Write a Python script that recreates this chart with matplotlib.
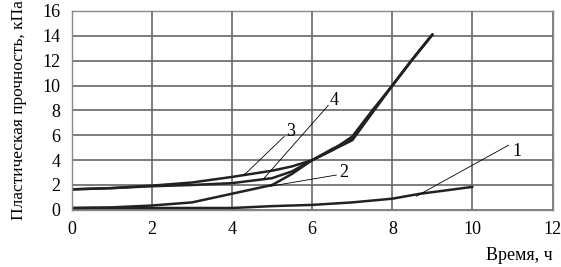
import numpy as np
import matplotlib.pyplot as plt

plt.rcParams['font.family'] = ['Liberation Serif', 'DejaVu Serif']

# curve data (time, h -> plastic strength, kPa)
t1 = [0, 2, 4, 5, 6, 7, 8, 8.7, 9.3, 10]
y1 = [0.15, 0.15, 0.15, 0.3, 0.4, 0.6, 0.9, 1.3, 1.55, 1.85]

t2 = [0, 1, 2, 3, 4, 5, 5.5, 6, 6.5, 7, 7.5, 8, 8.5, 9]
y2 = [0.15, 0.2, 0.35, 0.6, 1.3, 2.0, 2.9, 4.0, 4.8, 5.6, 7.8, 10.0, 12.1, 14.1]

t3 = [0, 1, 2, 3, 4, 5, 5.5, 6, 6.5, 7, 7.5, 8, 8.5, 9]
y3 = [1.65, 1.75, 1.95, 2.2, 2.65, 3.15, 3.5, 4.0, 4.8, 5.9, 8.0, 10.0, 12.1, 14.1]

t4 = [0, 1, 2, 3, 4, 5, 5.5, 6, 6.5, 7, 7.5, 8, 8.5, 9]
y4 = [1.65, 1.75, 1.9, 2.0, 2.15, 2.55, 3.1, 4.0, 4.9, 5.7, 7.9, 10.0, 12.1, 14.1]

# leader lines: (label, start point, end point, text point)
labels = ['1', '2', '3', '4']
lead_start = [(8.6, 1.1), (4.95, 1.9), (4.3, 2.8), (4.8, 2.55)]
lead_end = [(10.9, 5.2), (6.6, 2.8), (5.3, 5.9), (6.4, 8.4)]
text_pos = [(11.1, 4.7), (6.8, 3.0), (5.45, 6.3), (6.55, 8.8)]

xticks = [0, 2, 4, 6, 8, 10, 12]
yticks = [0, 2, 4, 6, 8, 10, 12, 14, 16]

fig = plt.figure(figsize=(5.61, 2.67), dpi=100)
ax = fig.add_axes([0.128, 0.214, 0.857, 0.745])

for t, y in [(t1, y1), (t2, y2), (t3, y3), (t4, y4)]:
    ax.plot(t, y, color='#222222', lw=1.8, solid_capstyle='round')

for lab, s, e, p in zip(labels, lead_start, lead_end, text_pos):
    ax.plot([s[0], e[0]], [s[1], e[1]], color='black', lw=0.6)
    ax.text(p[0], p[1], lab, fontsize=13, ha='center', va='center')

ax.set_xlim(0, 12)
ax.set_ylim(0, 16)
ax.set_xticks(xticks)
ax.set_yticks(yticks)
ax.grid(True, color='#666666', lw=1.2)
ax.set_axisbelow(True)
ax.tick_params(length=0, labelsize=13, pad=8)
for sp in ax.spines.values():
    sp.set_color('#888888')
    sp.set_linewidth(1.0)

ax.set_ylabel('Пластическая прочность, кПа', fontsize=12.5, labelpad=11)
fig.text(0.985, 0.01, 'Время, ч', fontsize=13, ha='right', va='bottom')

fig.savefig('out.png', dpi=100)
